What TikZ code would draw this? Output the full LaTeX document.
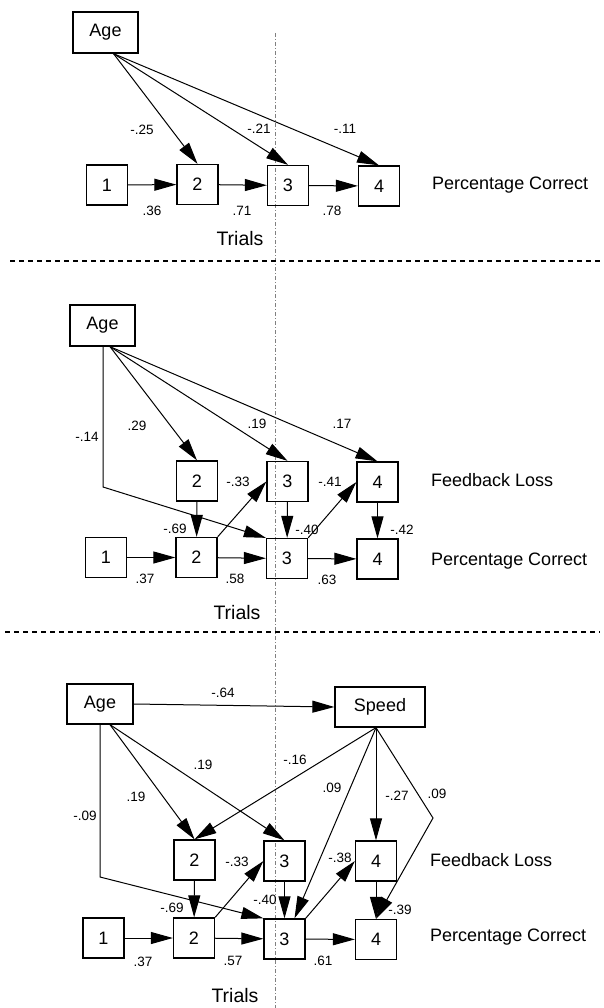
\documentclass[tikz,border=0pt]{standalone}
\usepackage{fontspec}
\setmainfont{Liberation Sans}
\usetikzlibrary{arrows.meta}
\begin{document}
\begin{tikzpicture}[x=1pt,y=-1pt,
  numbox/.style={draw, line width=1.3pt, minimum width=41pt, minimum height=40pt, inner sep=0pt, font=\fontsize{18}{20}\selectfont},
  varbox/.style={numbox, minimum width=65pt, minimum height=41pt},
  lab/.style={font=\fontsize{13.5}{15}\selectfont, inner sep=0pt},
  rowlab/.style={anchor=west, font=\fontsize{18}{20}\selectfont, inner sep=0pt},
  trialslab/.style={font=\fontsize{19.5}{22}\selectfont, inner sep=0pt},
  arr/.style={line width=1pt, -{Triangle[length=22pt,width=12pt]}},
  divider/.style={line width=1.2pt, dash pattern=on 5pt off 4pt},
  foldline/.style={gray, line width=0.6pt, dash pattern=on 4pt off 2pt on 1pt off 2pt}]
\useasboundingbox (0,0) rectangle (604,1008);

% vertical fold of the page
\draw[foldline] (275,33) -- (275,1008);

% ---------------- panel 1: percentage correct only ----------------
\node[varbox] (age1) at (105.5,32.5) {Age};
\node[numbox] (p1a) at (107,185) {1};
\node[numbox] (p1b) at (197.5,184.5) {2};
\node[numbox] (p1c) at (288,185.5) {3};
\node[numbox] (p1d) at (379,186) {4};
\node[rowlab] (pc1) at (432,185) {Percentage Correct};
\node[trialslab] (tr1) at (240,239) {Trials};
\coordinate (a1o) at ([xshift=8pt]age1.south);
\draw[arr] (a1o) -- (p1b.north);
\draw[arr] (a1o) -- (p1c.north);
\draw[arr] (a1o) -- (p1d.north);
\draw[arr] (p1a) -- (p1b);
\draw[arr] (p1b) -- (p1c);
\draw[arr] (p1c) -- (p1d);
\node[lab] at (142,130) {-.25};
\node[lab] at (259,129) {-.21};
\node[lab] at (345,129) {-.11};
\node[lab] at (152,211) {.36};
\node[lab] at (242,211) {.71};
\node[lab] at (332,211) {.78};

\coordinate (d1a) at (10,261);
\coordinate (d1b) at (600,261);
\draw[divider] (d1a) -- (d1b);

% ---------------- panel 2: with feedback loss ----------------
\node[varbox] (age2) at (102.5,325.5) {Age};
\node[numbox] (f2b) at (197,481) {2};
\node[numbox] (f2c) at (287.5,481.5) {3};
\node[numbox] (f2d) at (377.5,482) {4};
\node[numbox] (p2a) at (106,557.5) {1};
\node[numbox] (p2b) at (196.5,557.5) {2};
\node[numbox] (p2c) at (287,558.5) {3};
\node[numbox] (p2d) at (377.5,559) {4};
\node[rowlab] (fl2) at (431,480) {Feedback Loss};
\node[rowlab] (pc2) at (431,561) {Percentage Correct};
\node[trialslab] (tr2) at (237,613) {Trials};
\coordinate (a2o) at ([xshift=7.5pt]age2.south);
\coordinate (a2s) at ([xshift=0.5pt]age2.south);
\coordinate (a2k) at (103,487);
\draw[arr] (a2o) -- (f2b.north);
\draw[arr] (a2o) -- (f2c.north);
\draw[arr] (a2o) -- (f2d.north);
\draw[arr] (a2s) -- (a2k) -- (p2c.north west);
\draw[arr] (f2b) -- (p2b);
\draw[arr] (f2c) -- (p2c);
\draw[arr] (f2d) -- (p2d);
\draw[arr] (p2b.north east) -- (f2c.west);
\draw[arr] (p2c.north east) -- (f2d.west);
\draw[arr] (p2a) -- (p2b);
\draw[arr] (p2b) -- (p2c);
\draw[arr] (p2c) -- (p2d);
\node[lab] at (137,426) {.29};
\node[lab] at (87,437) {-.14};
\node[lab] at (257,424) {.19};
\node[lab] at (342,424) {.17};
\node[lab] at (238,482) {-.33};
\node[lab] at (330,482) {-.41};
\node[lab] at (175,529) {-.69};
\node[lab] at (307,530) {-.40};
\node[lab] at (402,530) {-.42};
\node[lab] at (145,579) {.37};
\node[lab] at (235,579) {.58};
\node[lab] at (327,580) {.63};

\coordinate (d2a) at (5,632);
\coordinate (d2b) at (600,632);
\draw[divider] (d2a) -- (d2b);

% ---------------- panel 3: with speed ----------------
\node[varbox, minimum width=66pt, minimum height=40pt] (age3) at (100,704) {Age};
\node[varbox, minimum width=90pt, minimum height=40pt] (spd) at (380,707) {Speed};
\node[numbox] (f3b) at (194.5,860) {2};
\node[numbox] (f3c) at (284.5,861) {3};
\node[numbox] (f3d) at (376,861) {4};
\node[numbox] (p3a) at (103.5,938) {1};
\node[numbox] (p3b) at (194,938) {2};
\node[numbox] (p3c) at (284.5,939) {3};
\node[numbox] (p3d) at (376,939.5) {4};
\node[rowlab] (fl3) at (430,860) {Feedback Loss};
\node[rowlab] (pc3) at (430,937) {Percentage Correct};
\node[trialslab] (tr3) at (235,996) {Trials};
\draw[arr] (age3.east) -- (spd.west);
\coordinate (a3o) at ([xshift=10pt]age3.south);
\coordinate (a3s) at (age3.south);
\coordinate (a3k) at (100,877);
\draw[arr] (a3o) -- (f3b.north);
\draw[arr] (a3o) -- (f3c.north);
\draw[arr] (a3s) -- (a3k) -- (p3c.north west);
\coordinate (s3o) at ([xshift=-4pt]spd.south);
\coordinate (s3k) at (433,818);
\draw[arr] (s3o) -- (f3b.north);
\draw[arr] (s3o) -- ([xshift=10pt]p3c.north);
\draw[arr] (s3o) -- (f3d.north);
\draw[arr] (s3o) -- (s3k) -- (p3d.north);
\draw[arr] (f3b) -- (p3b);
\draw[arr] (f3c) -- (p3c);
\draw[arr] (f3d) -- (p3d);
\draw[arr] (p3b.north east) -- (f3c.west);
\draw[arr] (p3c.north east) -- (f3d.west);
\draw[arr] (p3a) -- (p3b);
\draw[arr] (p3b) -- (p3c);
\draw[arr] (p3c) -- (p3d);
\node[lab] at (223,693) {-.64};
\node[lab] at (136,797) {.19};
\node[lab] at (203,765) {.19};
\node[lab] at (85,816) {-.09};
\node[lab] at (295,760) {-.16};
\node[lab] at (332,788) {.09};
\node[lab] at (397,796) {-.27};
\node[lab] at (437,794) {.09};
\node[lab] at (237,862) {-.33};
\node[lab] at (340,858) {-.38};
\node[lab] at (172,908) {-.69};
\node[lab] at (265,900) {-.40};
\node[lab] at (400,910) {-.39};
\node[lab] at (143,962) {.37};
\node[lab] at (233,961) {.57};
\node[lab] at (323,961) {.61};
\end{tikzpicture}
\end{document}
